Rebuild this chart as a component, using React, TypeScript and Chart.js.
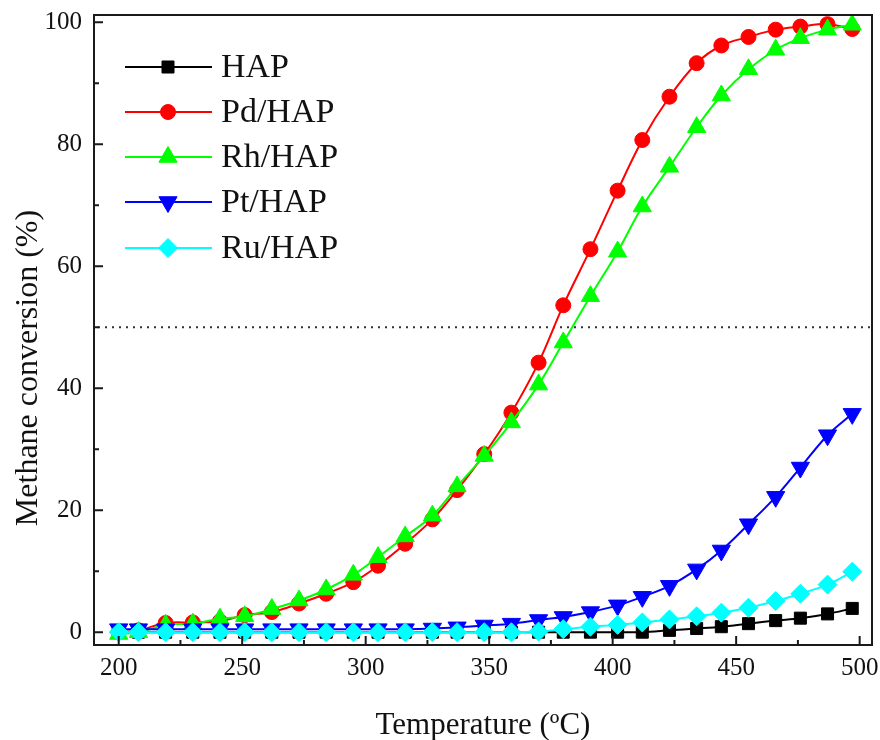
import React, { useEffect, useRef } from 'react';
import { Chart, registerables } from 'chart.js';
import { drawPoint } from 'chart.js/helpers';

Chart.register(...registerables);

const FONT = '"Liberation Serif", "Times New Roman", Times, serif';

// ---- data ----
const temperatures = [200, 208, 219, 230, 241, 251, 262, 273, 284, 295, 305, 316, 327, 337, 348, 359, 370, 380, 391, 402, 412, 423, 434, 444, 455, 466, 476, 487, 497];

const hapValues = [0, 0, 0, 0, 0, 0, 0, 0, 0, 0, 0, 0, 0, 0, 0, 0, 0, 0, 0, 0, 0, 0.3, 0.6, 0.9, 1.4, 1.9, 2.3, 3.0, 3.9];
const pdValues = [0, 0.3, 1.5, 1.6, 1.8, 2.8, 3.3, 4.7, 6.3, 8.2, 10.9, 14.5, 18.5, 23.3, 29.2, 36.0, 44.2, 53.6, 62.8, 72.4, 80.7, 87.8, 93.3, 96.2, 97.6, 98.8, 99.3, 99.7, 98.9];
const rhValues = [-0.3, 0, 1.2, 1.4, 2.2, 2.6, 3.8, 5.2, 7.0, 9.4, 12.3, 15.7, 19.1, 23.9, 28.9, 34.4, 40.6, 47.5, 55.1, 62.4, 69.8, 76.3, 82.8, 88.0, 92.3, 95.5, 97.4, 98.8, 99.6];
const ptValues = [0.5, 0.5, 0.5, 0.5, 0.5, 0.5, 0.5, 0.5, 0.5, 0.5, 0.5, 0.5, 0.6, 0.8, 1.1, 1.4, 2.0, 2.5, 3.3, 4.4, 5.8, 7.6, 10.3, 13.4, 17.7, 22.2, 27.0, 32.3, 35.8];
const ruValues = [0, 0, 0, 0, 0, 0, 0, 0, 0, 0, 0, 0, 0, 0, 0, 0, 0.1, 0.5, 0.9, 1.2, 1.6, 2.1, 2.6, 3.2, 4.0, 5.1, 6.3, 7.8, 9.9];

const seriesNames = ['HAP', 'Pd/HAP', 'Rh/HAP', 'Pt/HAP', 'Ru/HAP'];
const seriesColors = ['#000000', '#ff0000', '#00ff00', '#0000ff', '#00ffff'];

const xTickValues = [200, 250, 300, 350, 400, 450, 500];
const xMinorValues = [225, 275, 325, 375, 425, 475];
const yTickValues = [0, 20, 40, 60, 80, 100];
const yMinorValues = [10, 30, 50, 70, 90];
const thresholdValue = 50;

const xTitle = 'Temperature (ºC)';
const yTitle = 'Methane conversion (%)';

// marker styles
const markers = [
  { pointStyle: 'rect', radius: 8.5, rotation: 0 },
  { pointStyle: 'circle', radius: 7.5, rotation: 0 },
  { pointStyle: 'triangle', radius: 10.5, rotation: 0 },
  { pointStyle: 'triangle', radius: 10.5, rotation: 180 },
  { pointStyle: 'rectRot', radius: 9.5, rotation: 0 },
];

const seriesValues = [hapValues, pdValues, rhValues, ptValues, ruValues];
const drawOrder = [4, 3, 2, 1, 0];
const RIGHT_GAP = 8;

const decorPlugin = {
  id: 'decor',
  afterLayout(chart: any) {
    const xs = chart.scales.x;
    const target = chart.width - RIGHT_GAP;
    chart.chartArea.right = target;
    chart.chartArea.width = target - chart.chartArea.left;
    xs.right = target;
    xs.width = target - xs.left;
    xs.configure();
  },
  beforeDatasetsDraw(chart: any) {
    const { ctx, chartArea } = chart;
    const y = chart.scales.y.getPixelForValue(thresholdValue);
    ctx.save();
    ctx.strokeStyle = '#333333';
    ctx.lineWidth = 2;
    ctx.setLineDash([2, 5]);
    ctx.beginPath();
    ctx.moveTo(chartArea.left + 4, y);
    ctx.lineTo(chartArea.right, y);
    ctx.stroke();
    ctx.restore();
  },
  afterDraw(chart: any) {
    const { ctx, chartArea } = chart;
    const xs = chart.scales.x;
    const ys = chart.scales.y;
    ctx.save();
    // frame
    ctx.strokeStyle = '#1a1a1a';
    ctx.lineWidth = 2;
    ctx.setLineDash([]);
    ctx.strokeRect(chartArea.left, chartArea.top, chartArea.right - chartArea.left, chartArea.bottom - chartArea.top);
    // inward ticks
    ctx.beginPath();
    xTickValues.forEach((v) => {
      const px = xs.getPixelForValue(v);
      ctx.moveTo(px, chartArea.bottom);
      ctx.lineTo(px, chartArea.bottom - 9);
    });
    xMinorValues.forEach((v) => {
      const px = xs.getPixelForValue(v);
      ctx.moveTo(px, chartArea.bottom);
      ctx.lineTo(px, chartArea.bottom - 5);
    });
    yTickValues.forEach((v) => {
      const py = ys.getPixelForValue(v);
      ctx.moveTo(chartArea.left, py);
      ctx.lineTo(chartArea.left + 9, py);
    });
    yMinorValues.forEach((v) => {
      const py = ys.getPixelForValue(v);
      ctx.moveTo(chartArea.left, py);
      ctx.lineTo(chartArea.left + 5, py);
    });
    ctx.stroke();

    // x tick labels (positions from the x scale)
    ctx.fillStyle = '#111111';
    ctx.font = `25px ${FONT}`;
    ctx.textAlign = 'center';
    ctx.textBaseline = 'middle';
    xTickValues.forEach((v) => {
      ctx.fillText(String(v), xs.getPixelForValue(v), chartArea.bottom + 23);
    });

    // legend
    const rowsY = [67, 112, 157, 202, 248];
    seriesNames.forEach((name, i) => {
      const y = rowsY[i];
      ctx.strokeStyle = seriesColors[i];
      ctx.fillStyle = seriesColors[i];
      ctx.lineWidth = 2;
      ctx.beginPath();
      ctx.moveTo(125, y);
      ctx.lineTo(212, y);
      ctx.stroke();
      ctx.lineWidth = 1;
      drawPoint(ctx, { pointStyle: markers[i].pointStyle, radius: markers[i].radius, rotation: markers[i].rotation, borderWidth: 1 } as any, 168, y);
      ctx.fillStyle = '#111111';
      ctx.font = `34px ${FONT}`;
      ctx.textAlign = 'left';
      ctx.textBaseline = 'middle';
      ctx.fillText(name, 221, y + 1);
    });

    // axis titles
    ctx.fillStyle = '#111111';
    ctx.font = `31px ${FONT}`;
    ctx.textAlign = 'center';
    ctx.textBaseline = 'alphabetic';
    ctx.fillText(xTitle, (chartArea.left + chartArea.right) / 2, 734);

    ctx.font = `32px ${FONT}`;
    ctx.translate(37, 368);
    ctx.rotate(-Math.PI / 2);
    ctx.fillText(yTitle, 0, 0);
    ctx.restore();
  },
};

export default function App() {
  const canvasRef = useRef<HTMLCanvasElement | null>(null);

  useEffect(() => {
    if (!canvasRef.current) return;
    const datasets = seriesNames.map((name, i) => ({
      label: name,
      data: temperatures.map((t, j) => ({ x: t, y: seriesValues[i][j] })),
      borderColor: seriesColors[i],
      backgroundColor: seriesColors[i],
      pointBackgroundColor: seriesColors[i],
      pointBorderColor: seriesColors[i],
      pointBorderWidth: 1,
      borderWidth: 2,
      pointStyle: markers[i].pointStyle,
      pointRadius: markers[i].radius,
      pointRotation: markers[i].rotation,
      tension: 0.35,
      order: drawOrder[i],
      clip: false,
    }));

    const chart = new Chart(canvasRef.current, {
      type: 'line',
      data: { datasets } as any,
      options: {
        animation: false,
        responsive: true,
        maintainAspectRatio: false,
        layout: { padding: { top: 15, right: 8, left: 0, bottom: 0 } },
        plugins: {
          legend: { display: false },
          tooltip: { enabled: false },
        },
        scales: {
          x: {
            type: 'linear',
            min: 190,
            max: 505,
            grid: { display: false, drawTicks: false },
            border: { display: false },
            ticks: { display: false },
            afterBuildTicks: (s: any) => {
              s.ticks = xTickValues.map((v) => ({ value: v }));
            },
            afterFit: (s: any) => {
              s.height = 95;
              s.paddingLeft = 0;
              s.paddingRight = 0;
            },
          },
          y: {
            type: 'linear',
            min: -2.1,
            max: 101.2,
            grid: { display: false, drawTicks: false },
            border: { display: false },
            ticks: {
              font: { family: FONT, size: 25 },
              color: '#111111',
              padding: 12,
            },
            afterBuildTicks: (s: any) => {
              s.ticks = yTickValues.map((v) => ({ value: v }));
            },
            afterFit: (s: any) => {
              s.width = 94;
              s.paddingTop = 0;
              s.paddingBottom = 0;
            },
          },
        },
      } as any,
      plugins: [decorPlugin],
    });
    return () => chart.destroy();
  }, []);

  return (
    <div style={{ position: 'absolute', left: 0, top: 0, width: 880, height: 740, background: '#ffffff' }}>
      <canvas ref={canvasRef} />
    </div>
  );
}
